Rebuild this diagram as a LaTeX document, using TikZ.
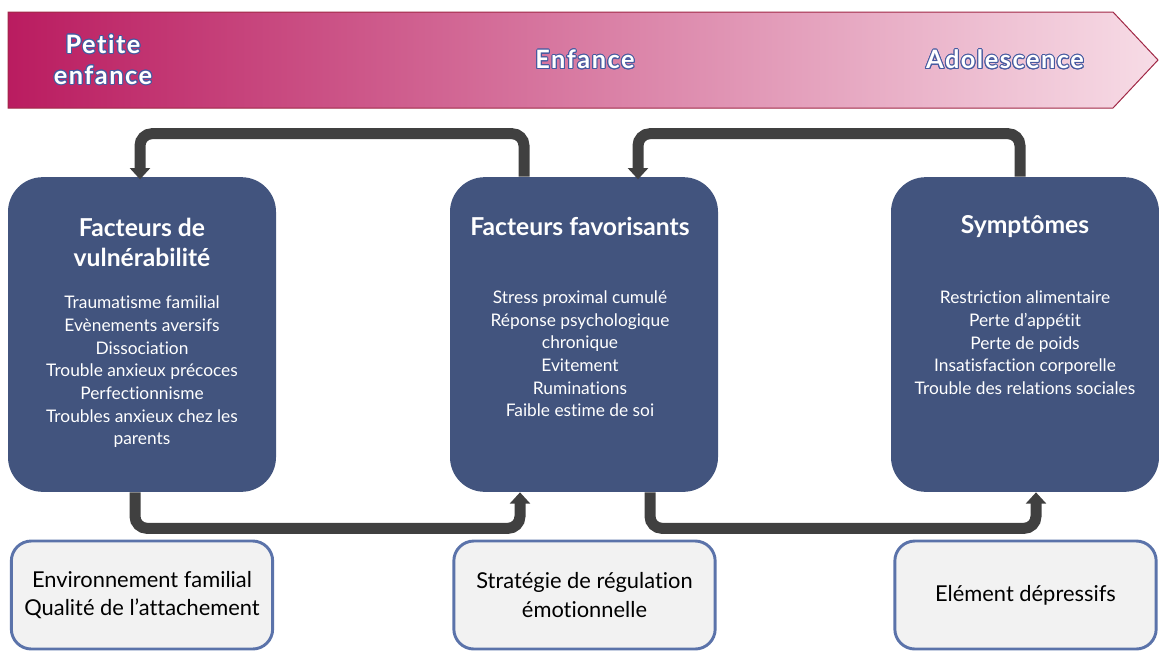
\documentclass[tikz,border=0pt]{standalone}
\usepackage{fontspec}
\setmainfont{Lato}[Ligatures=NoCommon]
\usepackage{contour}
\usetikzlibrary{arrows.meta,positioning}

\definecolor{boxblue}{RGB}{66,84,126}
\definecolor{linegray}{RGB}{64,64,64}
\definecolor{paleedge}{RGB}{91,115,170}
\definecolor{palefill}{RGB}{242,242,242}
\definecolor{bandleft}{RGB}{186,28,96}
\definecolor{bandmid}{RGB}{228,95,122}
\definecolor{bandright}{RGB}{247,220,230}
\definecolor{bandedge}{RGB}{160,40,70}
\definecolor{glowblue}{RGB}{70,90,160}

\contourlength{0.75pt}
\newcommand{\agetext}[1]{\contour{glowblue}{#1}}

\tikzset{every picture/.style={line width=0.75pt}}
\tikzset{
  factorbox/.style={draw=none, fill=boxblue, rounded corners=26pt, minimum width=201pt, minimum height=236pt, inner sep=0pt},
  contextbox/.style={draw=paleedge, line width=2.2pt, fill=palefill, rounded corners=15pt, minimum width=196pt, minimum height=81pt, align=center, font=\fontsize{16.4}{21.5}\selectfont},
  boxtitle/.style={text=white, font=\bfseries\fontsize{18.5}{22.5}\selectfont, align=center},
  boxlist/.style={text=white, font=\fontsize{13}{17}\selectfont, align=center, inner sep=0pt},
  agelabel/.style={text=white, font=\bfseries\fontsize{19}{23}\selectfont\addfontfeature{LetterSpace=6}, align=center},
  flow/.style={draw=linegray, line width=8.25pt, rounded corners=9pt, -{Triangle[width=15pt,length=8.5pt]}},
}

\begin{document}
\begin{tikzpicture}[x=0.75pt,y=0.75pt,yscale=-1,xscale=1]
	\useasboundingbox (0,0) rectangle (1159,651);

	%Shape: Arrow band
	\shade [left color=bandleft, middle color=bandmid, right color=bandright, draw=bandedge] (8,12) -- (1113,12) -- (1158,60) -- (1113,108) -- (8,108) -- cycle ;

	% Text Node
	\node [agelabel] (petite) at (103,60) {\agetext{Petite}\\\agetext{enfance}};
	% Text Node
	\node [agelabel] (enfance) at (585,60) {\agetext{Enfance}};
	% Text Node
	\node [agelabel] (ado) at (1005,60) {\agetext{Adolescence}};

	%Rounded Rect
	\node [factorbox] (vul) at (142,334.5) {};
	%Rounded Rect
	\node [factorbox] (fav) at (584,334.5) {};
	%Rounded Rect
	\node [factorbox] (sym) at (1025,334.5) {};

	% Text Node
	\node [boxtitle] (vultitle) at (142,242) {Facteurs de\\vulnérabilité};
	\node [boxlist] (vullist) at (142,372) {Traumatisme familial\\Evènements aversifs\\Dissociation\\Trouble anxieux précoces\\Perfectionnisme\\Troubles anxieux chez les\\parents};
	% Text Node
	\node [boxtitle] (favtitle) at (580,226) {Facteurs favorisants};
	\node [boxlist] (favlist) at (580,354) {Stress proximal cumulé\\Réponse psychologique\\chronique\\Evitement\\Ruminations\\Faible estime de soi};
	% Text Node
	\node [boxtitle] (symtitle) at (1025,227) {Symptômes};
	\node [boxlist] (symlist) at (1025,343) {Restriction alimentaire\\Perte d’appétit\\Perte de poids\\Insatisfaction corporelle\\Trouble des relations sociales};

	%Rounded Rect
	\node [contextbox] (famille) at (142,595) {Environnement familial\\Qualité de l’attachement};
	%Rounded Rect
	\node [contextbox] (regul) at (584.5,595) {Stratégie de régulation\\émotionnelle};
	%Rounded Rect
	\node [contextbox] (depress) at (1025.5,595) {Elément dépressifs};

	%Connectors
	\draw [flow] ([xshift=-45pt]fav.north) -- ++(0,-43) -| ([xshift=-1.5pt,yshift=2pt]vul.north);
	\draw [flow] ([xshift=-3.75pt]sym.north) -- ++(0,-43) -| ([xshift=40.5pt,yshift=2pt]fav.north);
	\draw [flow] ([xshift=-5.25pt]vul.south) -- ++(0,36) -| ([xshift=-48pt]fav.south);
	\draw [flow] ([xshift=49.5pt]fav.south) -- ++(0,36) -| ([xshift=8.25pt]sym.south);

\end{tikzpicture}
\end{document}
